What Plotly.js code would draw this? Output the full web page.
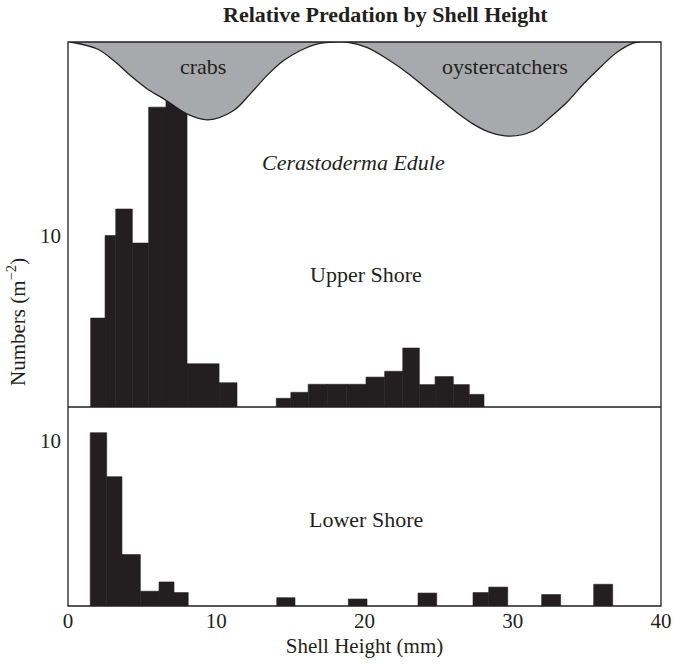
<!DOCTYPE html>
<html>
<head>
<meta charset="utf-8">
<script src="https://cdn.plot.ly/plotly-3.0.1.min.js"></script>
<style>html,body{margin:0;padding:0;background:#fff;}#chart{width:673px;height:665px;}</style>
</head>
<body>
<div id="chart"></div>
<script>
// Upper shore histogram (shell height bins in mm, numbers per m^2)
var upperBinStart = [1.53, 2.50, 3.22, 4.34, 5.44, 6.61, 8.03, 10.19, 14.05, 15.03, 16.2, 17.5, 18.8, 20.1, 21.36, 22.58, 23.7, 24.76, 25.99, 27.07];
var upperBinEnd   = [2.50, 3.22, 4.34, 5.44, 6.61, 8.03, 10.19, 11.4, 15.03, 16.2, 17.5, 18.8, 20.1, 21.36, 22.58, 23.7, 24.76, 25.99, 27.07, 28.06];
var upperCounts   = [5.2, 10.03, 11.58, 9.59, 17.54, 18.3, 2.53, 1.42, 0.51, 0.86, 1.33, 1.33, 1.33, 1.75, 2.09, 3.45, 1.31, 1.78, 1.31, 0.74];

// Lower shore histogram
var lowerBinStart = [1.50, 2.61, 3.64, 4.88, 6.14, 7.15, 14.08, 18.91, 23.61, 27.32, 28.38, 31.95, 35.46];
var lowerBinEnd   = [2.61, 3.64, 4.88, 6.14, 7.15, 8.11, 15.31, 20.17, 24.87, 28.38, 29.66, 33.23, 36.74];
var lowerCounts   = [10.45, 7.8, 3.1, 0.89, 1.45, 0.81, 0.5, 0.42, 0.78, 0.81, 1.14, 0.69, 1.31];

// Predation curve (crabs, oystercatchers), upper panel units
var predX = [0.18, 1.98, 3.10, 4.23, 5.35, 6.48, 8.05, 9.44, 11.15, 12.28, 13.40, 14.52, 15.65, 16.78, 18.01, 18.80, 20.15, 21.72, 22.85, 23.97, 25.09, 26.22, 27.34, 28.47, 29.81, 31.39, 32.51, 33.64, 34.76, 35.89, 37.01, 38.13, 38.58];
var predY = [21.35, 20.94, 20.25, 19.37, 18.60, 18.01, 17.13, 16.80, 17.33, 18.30, 19.37, 20.25, 20.84, 21.23, 21.35, 21.35, 21.03, 20.25, 19.57, 18.79, 18.01, 17.23, 16.55, 16.06, 15.84, 16.16, 16.94, 17.81, 18.89, 19.86, 20.74, 21.29, 21.35];

var xTicks = [0, 10, 20, 30, 40];
var upperYTicks = [10];
var lowerYTicks = [10];

function centers(s, e) { return s.map(function (v, i) { return (v + e[i]) / 2; }); }
function widths(s, e) { return s.map(function (v, i) { return e[i] - v; }); }

var ink = '#231f20';
var serif = 'Liberation Serif, Times New Roman, serif';

var traces = [
  {
    type: 'scatter', mode: 'lines', x: predX, y: predY, xaxis: 'x', yaxis: 'y',
    fill: 'toself', fillcolor: '#a7a9ac',
    line: {color: ink, width: 1.3, shape: 'spline', smoothing: 1},
    hoverinfo: 'skip', showlegend: false
  },
  {
    type: 'bar', x: centers(upperBinStart, upperBinEnd), y: upperCounts,
    width: widths(upperBinStart, upperBinEnd), xaxis: 'x', yaxis: 'y',
    marker: {color: ink, line: {width: 0.6, color: ink}}, showlegend: false
  },
  {
    type: 'bar', x: centers(lowerBinStart, lowerBinEnd), y: lowerCounts,
    width: widths(lowerBinStart, lowerBinEnd), xaxis: 'x', yaxis: 'y2',
    marker: {color: ink, line: {width: 0.6, color: ink}}, showlegend: false
  }
];

var split = 0.3528;
var fs = 21;

var layout = {
  width: 673, height: 665,
  margin: {l: 68, r: 12, t: 42, b: 59},
  paper_bgcolor: '#ffffff', plot_bgcolor: '#ffffff',
  font: {family: serif, size: fs, color: ink},
  showlegend: false,
  barmode: 'overlay',
  xaxis: {
    domain: [0, 1], range: [0, 40], anchor: 'y2',
    tickvals: xTicks, ticktext: xTicks.map(String), ticks: '',
    showgrid: false, zeroline: false, showline: false,
    tickfont: {family: serif, size: fs, color: ink},
    title: {text: 'Shell Height (mm)', font: {family: serif, size: fs, color: ink}, standoff: 6}
  },
  yaxis: {
    domain: [split, 1], range: [0, 21.35], anchor: 'x',
    tickvals: upperYTicks, ticktext: upperYTicks.map(String), ticks: '',
    showgrid: false, zeroline: false, showline: false,
    tickfont: {family: serif, size: fs, color: ink}, ticklabelstandoff: 6
  },
  yaxis2: {
    domain: [0, split], range: [0, 12], anchor: 'x',
    tickvals: lowerYTicks, ticktext: lowerYTicks.map(String), ticks: '',
    showgrid: false, zeroline: false, showline: false,
    tickfont: {family: serif, size: fs, color: ink}, ticklabelstandoff: 6
  },
  shapes: [
    {type: 'rect', xref: 'paper', yref: 'paper', x0: 0, x1: 1, y0: 0, y1: 1, line: {color: ink, width: 1.3}, fillcolor: 'rgba(0,0,0,0)', layer: 'above'},
    {type: 'line', xref: 'paper', yref: 'paper', x0: 0, x1: 1, y0: split, y1: split, line: {color: ink, width: 1.3}, layer: 'above'}
  ],
  annotations: [
    {text: '<b>Relative Predation by Shell Height</b>', xref: 'paper', yref: 'paper', x: 0.535, y: 1.0496, xanchor: 'center', yanchor: 'middle', showarrow: false, font: {family: serif, size: 22, color: ink}},
    {text: 'Numbers (m<sup>\u22122</sup>)', xref: 'paper', yref: 'paper', x: -0.0877, y: 0.5035, xanchor: 'center', yanchor: 'middle', textangle: -90, showarrow: false, font: {family: serif, size: fs, color: ink}},
    {text: 'crabs', xref: 'x', yref: 'y', x: 9.1, y: 19.9, showarrow: false, font: {family: serif, size: 22, color: ink}},
    {text: 'oystercatchers', xref: 'x', yref: 'y', x: 29.47, y: 19.9, showarrow: false, font: {family: serif, size: 22, color: ink}},
    {text: '<i>Cerastoderma Edule</i>', xref: 'x', yref: 'y', x: 19.29, y: 14.29, showarrow: false, font: {family: serif, size: 22, color: ink}},
    {text: 'Upper Shore', xref: 'x', yref: 'y', x: 20.1, y: 7.74, showarrow: false, font: {family: serif, size: 22, color: ink}},
    {text: 'Lower Shore', xref: 'x', yref: 'y2', x: 20.1, y: 5.24, showarrow: false, font: {family: serif, size: 22, color: ink}}
  ]
};

Plotly.newPlot('chart', traces, layout, {displayModeBar: false, staticPlot: true});
</script>
</body>
</html>
